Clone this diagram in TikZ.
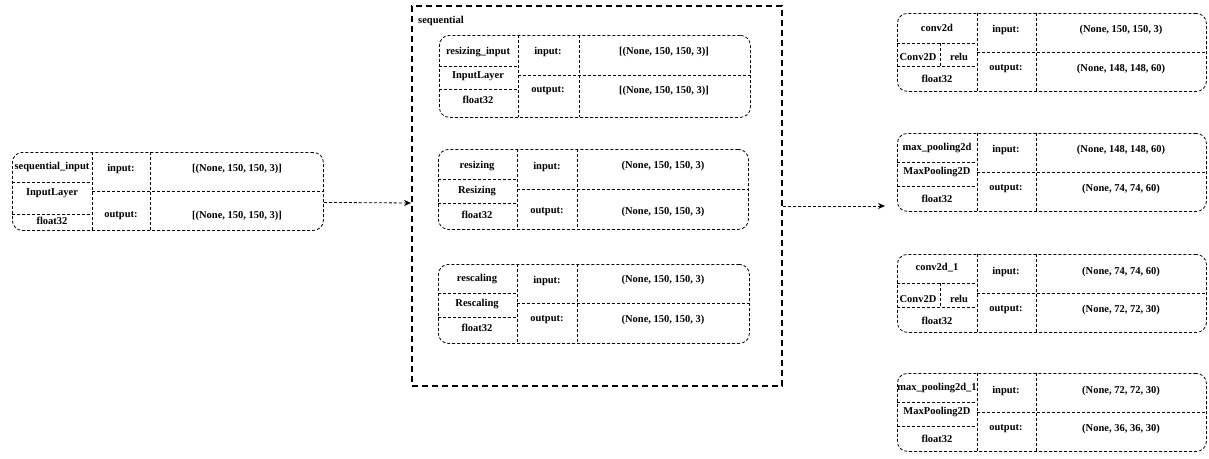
\documentclass[tikz,border=0pt]{standalone}
\usepackage{fontspec}
\setmainfont{Liberation Serif}
\usetikzlibrary{arrows.meta,calc}
\tikzset{
  lbox/.style={draw, rounded corners=10pt, line width=0.8pt, dash pattern=on 3pt off 2pt, inner sep=0pt, anchor=north west},
  dv/.style={line width=0.8pt, dash pattern=on 3pt off 2pt},
  seqbox/.style={draw, line width=2pt, dash pattern=on 6pt off 4pt, inner sep=0pt, anchor=north west},
  tx/.style={font=\fontsize{10.5}{12}\selectfont\bfseries, inner sep=0pt},
  conn/.style={line width=0.8pt, dash pattern=on 3pt off 2pt, -{Stealth[length=7pt,width=6pt]}}
}
\begin{document}
\begin{tikzpicture}[x=1pt,y=-1pt]
\useasboundingbox (0,0) rectangle (1209,458);

% ---- sequential_input
\node[lbox, minimum width=311pt, minimum height=78pt] (b1) at (12,152) {};
\draw[dv] (92,152) -- (92,230) (150,152) -- (150,230)
  (12,182) -- (92,182) (12,214) -- (92,214) (92,191) -- (323,191);
\node[tx] (b1n) at (52,167) {sequential\_input};
\node[tx] (b1c) at (52,193) {InputLayer};
\node[tx] (b1t) at (52,220.5) {float32};
\node[tx] (b1i) at (121,169) {input:};
\node[tx] (b1o) at (121,216) {output:};
\node[tx] (b1iv) at (237,169) {[(None, 150, 150, 3)]};
\node[tx] (b1ov) at (237,216) {[(None, 150, 150, 3)]};

% ---- sequential container
\node[seqbox, minimum width=370pt, minimum height=380pt] (seq) at (411,5) {};
\node[tx, anchor=west] (seql) at (418,21) {sequential};

% resizing_input
\node[lbox, minimum width=311pt, minimum height=82pt] (r1) at (439,35) {};
\draw[dv] (518,35) -- (518,117) (579,35) -- (579,117)
  (439,66) -- (518,66) (439,89) -- (518,89) (518,75) -- (750,75);
\node[tx] (r1n) at (478,52) {resizing\_input};
\node[tx] (r1c) at (478,76) {InputLayer};
\node[tx] (r1t) at (478,100) {float32};
\node[tx] (r1i) at (548,52) {input:};
\node[tx] (r1o) at (548,91) {output:};
\node[tx] (r1iv) at (664,52) {[(None, 150, 150, 3)]};
\node[tx] (r1ov) at (664,91) {[(None, 150, 150, 3)]};

% resizing
\node[lbox, minimum width=310pt, minimum height=80pt] (r2) at (438,149) {};
\draw[dv] (517,149) -- (517,229) (577,149) -- (577,229)
  (438,179) -- (517,179) (438,203) -- (517,203) (517,189) -- (748,189);
\node[tx] (r2n) at (477,166) {resizing};
\node[tx] (r2c) at (477,191) {Resizing};
\node[tx] (r2t) at (477,215) {float32};
\node[tx] (r2i) at (547,167) {input:};
\node[tx] (r2o) at (547,212) {output:};
\node[tx] (r2iv) at (663,166) {(None, 150, 150, 3)};
\node[tx] (r2ov) at (663,212) {(None, 150, 150, 3)};

% rescaling
\node[lbox, minimum width=311pt, minimum height=79pt] (r3) at (438,264) {};
\draw[dv] (517,264) -- (517,343) (577,264) -- (577,343)
  (438,293) -- (517,293) (438,317) -- (517,317) (517,303) -- (749,303);
\node[tx] (r3n) at (477,279) {rescaling};
\node[tx] (r3c) at (477,304) {Rescaling};
\node[tx] (r3t) at (477,328) {float32};
\node[tx] (r3i) at (547,281) {input:};
\node[tx] (r3o) at (547,320) {output:};
\node[tx] (r3iv) at (663,280) {(None, 150, 150, 3)};
\node[tx] (r3ov) at (663,320) {(None, 150, 150, 3)};

% ---- conv2d
\node[lbox, minimum width=309pt, minimum height=78pt] (c1) at (897,13) {};
\draw[dv] (977,13) -- (977,91) (1036,13) -- (1036,91)
  (897,43) -- (977,43) (897,66) -- (977,66) (940,43) -- (940,66) (977,52) -- (1206,52);
\node[tx] (c1n) at (937,28) {conv2d};
\node[tx] (c1c) at (918,57) {Conv2D};
\node[tx] (c1a) at (959,57) {relu};
\node[tx] (c1t) at (937,79) {float32};
\node[tx] (c1i) at (1006,30) {input:};
\node[tx] (c1o) at (1006,69) {output:};
\node[tx] (c1iv) at (1121,30) {(None, 150, 150, 3)};
\node[tx] (c1ov) at (1121,69) {(None, 148, 148, 60)};

% ---- max_pooling2d
\node[lbox, minimum width=309pt, minimum height=78pt] (m1) at (897,133) {};
\draw[dv] (977,133) -- (977,211) (1036,133) -- (1036,211)
  (897,162) -- (977,162) (897,186) -- (977,186) (977,172) -- (1206,172);
\node[tx] (m1n) at (937,148) {max\_pooling2d};
\node[tx] (m1c) at (937,172) {MaxPooling2D};
\node[tx] (m1t) at (937,199) {float32};
\node[tx] (m1i) at (1006,150) {input:};
\node[tx] (m1o) at (1006,189) {output:};
\node[tx] (m1iv) at (1121,150) {(None, 148, 148, 60)};
\node[tx] (m1ov) at (1121,189) {(None, 74, 74, 60)};

% ---- conv2d_1
\node[lbox, minimum width=309pt, minimum height=78pt] (c2) at (897,254) {};
\draw[dv] (977,254) -- (977,332) (1036,254) -- (1036,332)
  (897,283) -- (977,283) (897,307) -- (977,307) (940,283) -- (940,307) (977,293) -- (1206,293);
\node[tx] (c2n) at (937,268) {conv2d\_1};
\node[tx] (c2c) at (918,299) {Conv2D};
\node[tx] (c2a) at (959,299) {relu};
\node[tx] (c2t) at (937,321) {float32};
\node[tx] (c2i) at (1006,272) {input:};
\node[tx] (c2o) at (1006,310) {output:};
\node[tx] (c2iv) at (1121,272) {(None, 74, 74, 60)};
\node[tx] (c2ov) at (1121,310) {(None, 72, 72, 30)};

% ---- max_pooling2d_1
\node[lbox, minimum width=309pt, minimum height=78pt] (m2) at (897,373) {};
\draw[dv] (977,373) -- (977,451) (1036,373) -- (1036,451)
  (897,402) -- (977,402) (897,426) -- (977,426) (977,412) -- (1206,412);
\node[tx] (m2n) at (937,388) {max\_pooling2d\_1};
\node[tx] (m2c) at (937,412) {MaxPooling2D};
\node[tx] (m2t) at (937,439) {float32};
\node[tx] (m2i) at (1006,391) {input:};
\node[tx] (m2o) at (1006,429) {output:};
\node[tx] (m2iv) at (1121,391) {(None, 72, 72, 30)};
\node[tx] (m2ov) at (1121,429) {(None, 36, 36, 30)};

% ---- connectors
\coordinate (a1s) at ($(b1.east)+(0,11)$);
\coordinate (a1e) at ($(seq.west)+(0,7)$);
\draw[conn] (a1s) -- (a1e);
\coordinate (a2s) at ($(seq.east)+(0,10)$);
\coordinate (a2e) at ($(seq.east)+(102,10)$);
\draw[conn] (a2s) -- (a2e);
\end{tikzpicture}
\end{document}
